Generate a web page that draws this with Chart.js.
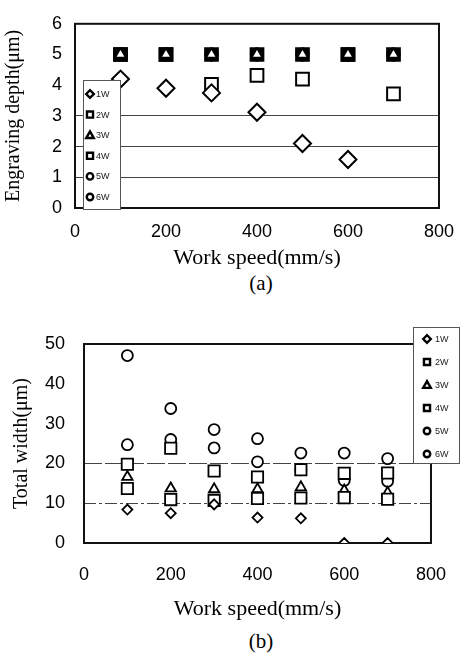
<!DOCTYPE html>
<html><head><meta charset="utf-8">
<script src="https://cdn.jsdelivr.net/npm/chart.js@4.4.0/dist/chart.umd.min.js"></script>
<style>
html,body{margin:0;padding:0;background:#fff;}
body{width:467px;height:660px;position:relative;overflow:hidden;}
canvas{position:absolute;left:0;}
#ca{top:0;}
#cb{top:300px;}
.cap{position:absolute;left:230px;width:62px;text-align:center;font-family:"Liberation Serif";font-size:21px;line-height:24px;color:#000;}
</style></head><body>
<canvas id="ca" width="467" height="271"></canvas>
<div class="cap" style="top:271px;">(a)</div>
<canvas id="cb" width="467" height="322"></canvas>
<div class="cap" style="top:629px;">(b)</div>
<script>
// ---- data ----
const speeds = [100, 200, 300, 400, 500, 600, 700];
const seriesNames = ['1W', '2W', '3W', '4W', '5W', '6W'];
const speedTicks = [0, 200, 400, 600, 800];
const depthTicks = [0, 1, 2, 3, 4, 5, 6];
const widthTicks = [0, 10, 20, 30, 40, 50];

// (a) engraving depth (um)
const depth1W = [4.2, 3.9, 3.75, 3.12, 2.1, 1.58, null];
const depth2W = [5, 5, 4.03, 4.32, 4.2, 5, 3.72];
const depth3W = [5, 5, 5, 5, 5, 5, 5];
const depth4W = [5, 5, 5, 5, 5, 5, 5];
const depth5W = [5, 5, 5, 5, 5, 5, 5];
const depth6W = [5, 5, 5, 5, 5, 5, 5];

// (b) total width (um)
const width1W = [8.4, 7.5, 9.7, 6.4, 6.2, 0, 0];
const width2W = [13.7, 10.9, 10.7, 11.2, 11.3, 11.4, 11.0];
const width3W = [16.6, 13.7, 13.5, 13.5, 14.0, 13.2, 12.6];
const width4W = [19.8, 23.8, 18.1, 16.6, 18.4, 17.5, 17.6];
const width5W = [24.7, 26.0, 23.9, 20.4, 18.4, 15.7, 15.5];
const width6W = [47.1, 33.8, 28.5, 26.2, 22.6, 22.6, 21.2];

const depthGrid = [1, 2, 3];
const widthGrid = [10, 20];

// ---- helpers ----
const pts = arr => speeds.map((s, i) => ({x: s, y: arr[i]}));
const legendStyles = ['diamond', 'square', 'triangle', 'square', 'circle', 'circle'];

function drawGlyph(ctx, kind, x, y, s) {
  ctx.beginPath();
  if (kind === 'diamond') {
    ctx.moveTo(x - s, y); ctx.lineTo(x, y - s); ctx.lineTo(x + s, y); ctx.lineTo(x, y + s); ctx.closePath();
  } else if (kind === 'square') {
    ctx.rect(x - s * 0.8, y - s * 0.8, s * 1.6, s * 1.6);
  } else if (kind === 'triangle') {
    ctx.moveTo(x, y - s); ctx.lineTo(x + s, y + s * 0.75); ctx.lineTo(x - s, y + s * 0.75); ctx.closePath();
  } else {
    ctx.arc(x, y, s * 0.85, 0, Math.PI * 2);
  }
  ctx.fillStyle = '#fff'; ctx.fill();
  ctx.lineWidth = 2.4; ctx.strokeStyle = '#000'; ctx.stroke();
}

const framePlugin = {
  id: 'frame',
  beforeDatasetsDraw(chart) {
    const a = chart.chartArea, ctx = chart.ctx;
    ctx.save();
    ctx.strokeStyle = '#111'; ctx.lineWidth = 2;
    ctx.strokeRect(a.left, a.top, a.right - a.left, a.bottom - a.top);
    ctx.restore();
  }
};

const boxLegendPlugin = {
  id: 'boxLegend',
  afterDatasetsDraw(chart, args, o) {
    const ctx = chart.ctx;
    ctx.save();
    ctx.fillStyle = '#fff';
    ctx.fillRect(o.x, o.y, o.w, o.h);
    ctx.strokeStyle = '#555'; ctx.lineWidth = 1;
    ctx.strokeRect(o.x + 0.5, o.y + 0.5, o.w, o.h);
    seriesNames.forEach((name, i) => {
      const yy = o.y0 + i * o.dy;
      drawGlyph(ctx, legendStyles[i], o.mx, yy, 3.8);
      ctx.fillStyle = '#222';
      ctx.font = '9px "Liberation Sans"';
      ctx.textAlign = 'left'; ctx.textBaseline = 'middle';
      ctx.fillText(name, o.tx, yy + 0.5);
    });
    ctx.restore();
  }
};

function ds(label, arr, style, r, bg, bw, order) {
  return {
    label, data: pts(arr), pointStyle: style, pointRadius: r, pointHoverRadius: r,
    pointBackgroundColor: bg, pointBorderColor: '#000', pointBorderWidth: bw,
    showLine: false, order
  };
}

const tickFont = {family: 'Liberation Sans', size: 18};
const titleFont = sz => ({family: 'Liberation Serif', size: sz});

function gridColor(list) {
  return ctx => (ctx.tick && list.includes(ctx.tick.value)) ? '#444' : 'rgba(0,0,0,0)';
}

// ---- chart (a) ----
new Chart(document.getElementById('ca'), {
  type: 'scatter',
  data: {
    datasets: [
      ds('1W', depth1W, 'rectRot', 8.5, '#fff', 2, 0),
      ds('2W', depth2W, 'rect', 9, '#fff', 2, 3),
      ds('3W', depth3W, 'triangle', 4.5, '#fff', 0, 1),
      ds('4W', depth4W, 'rect', 9, '#000', 2, 2),
      ds('5W', depth5W, 'circle', 6, '#fff', 2, 4),
      ds('6W', depth6W, 'circle', 6, '#fff', 2, 5)
    ]
  },
  options: {
    responsive: false, animation: false,
    layout: {padding: {left: 0, right: 21, top: 16, bottom: 0}},
    plugins: {
      legend: {display: false}, tooltip: {enabled: false},
      boxLegend: {x: 83, y: 80, w: 37, h: 129, y0: 94, dy: 20.6, mx: 90, tx: 96}
    },
    scales: {
      x: {
        type: 'linear', min: 0, max: 800,
        afterBuildTicks: s => { s.ticks = speedTicks.map(v => ({value: v})); },
        afterFit: s => { s.height = 63; },
        grid: {display: false, drawTicks: false},
        border: {display: false},
        ticks: {font: tickFont, color: '#000', padding: 13, maxRotation: 0},
        title: {display: true, text: 'Work speed(mm/s)', font: titleFont(22), color: '#000', padding: 0}
      },
      y: {
        type: 'linear', min: 0, max: 6,
        afterBuildTicks: s => { s.ticks = depthTicks.map(v => ({value: v})); },
        afterFit: s => { s.width = 75; },
        grid: {drawTicks: false, color: gridColor(depthGrid), lineWidth: 1},
        border: {display: false},
        ticks: {font: tickFont, color: '#000', padding: 13},
        title: {display: true, text: 'Engraving depth(μm)', font: titleFont(20), color: '#000', padding: {top: 2, bottom: 0}}
      }
    }
  },
  plugins: [framePlugin, boxLegendPlugin]
});

// ---- chart (b) ----
new Chart(document.getElementById('cb'), {
  type: 'scatter',
  data: {
    datasets: [
      ds('1W', width1W, 'rectRot', 5, '#fff', 1.8, 0),
      ds('2W', width2W, 'rect', 8, '#fff', 1.8, 1),
      ds('3W', width3W, 'triangle', 6, '#fff', 1.8, 2),
      ds('4W', width4W, 'rect', 8, '#fff', 1.8, 3),
      ds('5W', width5W, 'circle', 5.5, '#fff', 1.8, 4),
      ds('6W', width6W, 'circle', 5.5, '#fff', 1.8, 5)
    ]
  },
  options: {
    responsive: false, animation: false,
    layout: {padding: {left: 0, right: 23, top: 44, bottom: 0}},
    plugins: {
      legend: {display: false}, tooltip: {enabled: false},
      boxLegend: {x: 413, y: 27, w: 46, h: 136, y0: 39, dy: 23, mx: 427, tx: 435}
    },
    scales: {
      x: {
        type: 'linear', min: 0, max: 800,
        afterBuildTicks: s => { s.ticks = speedTicks.map(v => ({value: v})); },
        afterFit: s => { s.height = 79; },
        grid: {display: false, drawTicks: false},
        border: {display: false},
        ticks: {font: tickFont, color: '#000', padding: 21, maxRotation: 0},
        title: {display: true, text: 'Work speed(mm/s)', font: titleFont(22), color: '#000', padding: 0}
      },
      y: {
        type: 'linear', min: 0, max: 50,
        afterBuildTicks: s => { s.ticks = widthTicks.map(v => ({value: v})); },
        afterFit: s => { s.width = 84; },
        grid: {drawTicks: false, color: gridColor(widthGrid), lineWidth: 1},
        border: {display: false, dash: ctx => (ctx.tick && ctx.tick.value === 10) ? [12, 3, 3, 3] : [18, 3]},
        ticks: {font: tickFont, color: '#000', padding: 19},
        title: {display: true, text: 'Total width(μm)', font: titleFont(20), color: '#000', padding: {top: 10, bottom: 0}}
      }
    }
  },
  plugins: [framePlugin, boxLegendPlugin]
});
</script>
</body></html>
